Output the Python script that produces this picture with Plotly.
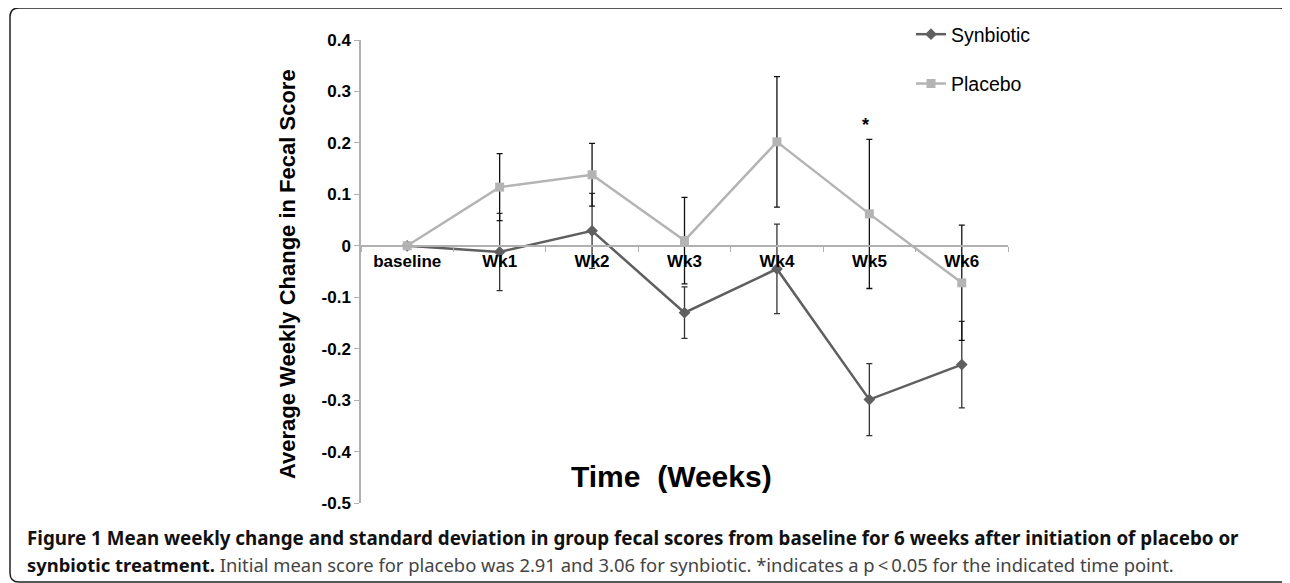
import plotly.graph_objects as go

# ---- data ----
categories = ["baseline", "Wk1", "Wk2", "Wk3", "Wk4", "Wk5", "Wk6"]
synbiotic = [0, -0.012, 0.029, -0.130, -0.045, -0.299, -0.231]
synbiotic_sd = [0, 0.075, 0.073, 0.050, 0.087, 0.070, 0.084]
placebo = [0, 0.114, 0.138, 0.010, 0.202, 0.062, -0.072]
placebo_sd = [0, 0.065, 0.061, 0.084, 0.127, 0.145, 0.112]
y_tickvals = [0.4, 0.3, 0.2, 0.1, 0, -0.1, -0.2, -0.3, -0.4, -0.5]
y_ticktext = ["0.4", "0.3", "0.2", "0.1", "0", "-0.1", "-0.2", "-0.3", "-0.4", "-0.5"]
sig_point = "Wk5"
sig_label = "*"
sig_y = 0.235

W, H = 1290, 583
OFF = 8  # page body margin in the browser
L, R, T, B = 361 - OFF, 1008 - OFF, 40 - OFF, 503 - OFF
YMIN, YMAX = -0.5, 0.4


def px(x):
    return (x - OFF - L) / (R - L)


def py(y):
    return (B - (y - OFF)) / (B - T)


AX = "Liberation Sans, Arial, sans-serif"
CAP = "Noto Sans, Open Sans, sans-serif"

fig = go.Figure()
fig.add_trace(go.Scatter(
    x=categories, y=synbiotic, name="Synbiotic", mode="lines+markers",
    line=dict(color="#5f5f5f", width=2.5),
    marker=dict(symbol="diamond", size=9, color="#5f5f5f"),
    error_y=dict(type="data", array=synbiotic_sd, visible=True,
                 color="#333333", thickness=1.3, width=3),
    legendgroup="s",
))
fig.add_trace(go.Scatter(
    x=categories, y=placebo, name="Placebo", mode="lines+markers",
    line=dict(color="#b4b4b4", width=2.5),
    marker=dict(symbol="square", size=9, color="#b4b4b4"),
    error_y=dict(type="data", array=placebo_sd, visible=True,
                 color="#111111", thickness=1.3, width=3),
    legendgroup="p",
))

zero_pos = (0 - YMIN) / (YMAX - YMIN)

fig.update_layout(
    width=W, height=H,
    margin=dict(l=L, r=W - R, t=T, b=H - B, autoexpand=False),
    paper_bgcolor="white", plot_bgcolor="white",
    font=dict(family=AX, color="#000000"),
    xaxis=dict(
        type="category", range=[-0.5, len(categories) - 0.5],
        anchor="free", position=zero_pos,
        showline=True, linecolor="#b0b0b0", linewidth=1.5,
        ticks="outside", tickson="boundaries", ticklen=5, tickcolor="#b0b0b0",
        tickwidth=1.2, showgrid=False, zeroline=False,
        tickfont=dict(size=17, family=AX, weight="bold", color="#000"),
    ),
    yaxis=dict(
        range=[YMIN, YMAX], tickvals=y_tickvals, ticktext=y_ticktext,
        showline=True, linecolor="#b0b0b0", linewidth=1.5,
        ticks="outside", ticklen=5, tickcolor="#b0b0b0", tickwidth=1.2,
        showgrid=False, zeroline=False,
        tickfont=dict(size=17, family=AX, weight="bold", color="#000"),
    ),
    showlegend=True,
    legend=dict(
        x=px(911), y=py(15), xanchor="left", yanchor="top",
        bgcolor="rgba(0,0,0,0)", font=dict(size=19.5, family=AX, color="#000"),
        tracegroupgap=21, itemwidth=30,
    ),
)

annotations = [
    dict(text=sig_label, x=sig_point, y=sig_y, xref="x", yref="y", showarrow=False,
         font=dict(size=18, family=AX, weight="bold", color="#000"), xshift=-4),
    dict(text="Average Weekly Change in Fecal Score", x=px(287), y=py(274),
         xref="paper", yref="paper", showarrow=False, textangle=-90,
         xanchor="center", yanchor="middle",
         font=dict(size=22, family=AX, weight="bold", color="#000")),
    dict(text="Time\u00a0 (Weeks)", x=px(671), y=py(476),
         xref="paper", yref="paper", showarrow=False,
         xanchor="center", yanchor="middle",
         font=dict(size=30, family=AX, weight="bold", color="#000")),
    dict(text="<b>Figure 1 Mean weekly change and standard deviation in group fecal scores from baseline for 6 weeks after initiation of placebo or</b>",
         x=px(25), y=py(538), xref="paper", yref="paper", showarrow=False,
         xanchor="left", yanchor="middle",
         font=dict(size=18.8, family=CAP, color="#111")),
    dict(text="<b>synbiotic treatment.</b><span style='color:#444'> Initial mean score for placebo was 2.91 and 3.06 for synbiotic. *indicates a p\u2009<\u20090.05 for the indicated time point.</span>",
         x=px(25), y=py(564), xref="paper", yref="paper", showarrow=False,
         xanchor="left", yanchor="middle",
         font=dict(size=18.4, family=CAP, color="#111")),
]
fig.update_layout(annotations=annotations)

# rounded frame around the figure
fl, ft, fr, fb, r = 10, 8, 1289, 582, 9
path = (f"M {px(fl + r)} {py(ft)} L {px(fr - r)} {py(ft)} Q {px(fr)} {py(ft)} {px(fr)} {py(ft + r)} "
        f"L {px(fr)} {py(fb - r)} Q {px(fr)} {py(fb)} {px(fr - r)} {py(fb)} "
        f"L {px(fl + r)} {py(fb)} Q {px(fl)} {py(fb)} {px(fl)} {py(fb - r)} "
        f"L {px(fl)} {py(ft + r)} Q {px(fl)} {py(ft)} {px(fl + r)} {py(ft)} Z")
fig.add_shape(type="path", path=path, xref="paper", yref="paper",
              line=dict(color="#222222", width=1.5), layer="above")

fig.write_html("out.html")
